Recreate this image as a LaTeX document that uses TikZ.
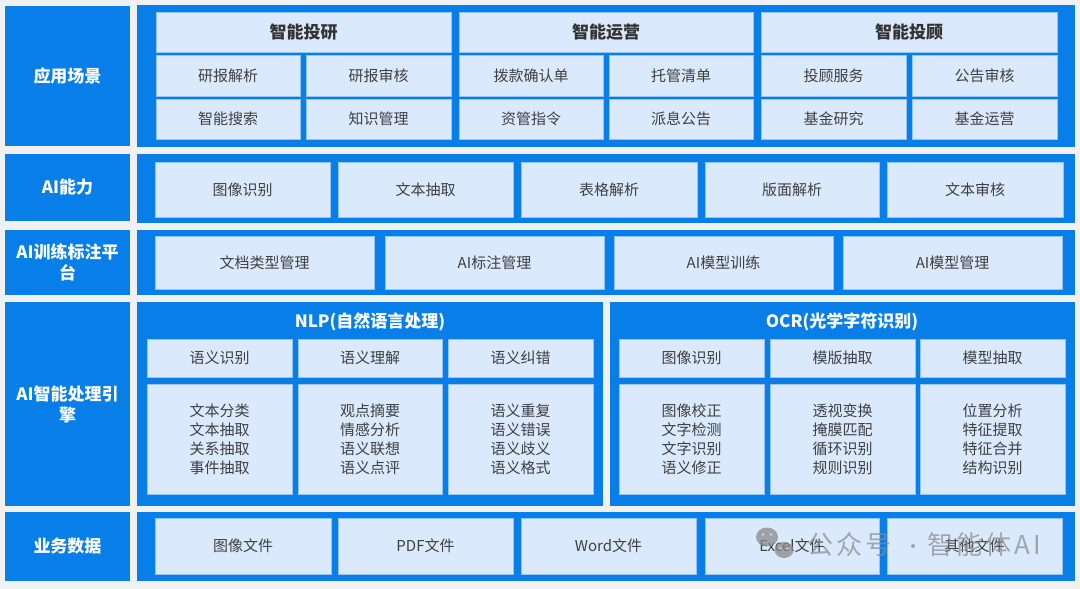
\documentclass[tikz,border=0pt]{standalone}
\usepackage{fontspec}
\setmainfont{Noto Sans CJK SC}
\definecolor{bg}{HTML}{F1F1F1}
\definecolor{mainblue}{HTML}{077EE8}
\definecolor{cellfill}{HTML}{DAE9FC}
\definecolor{cellline}{HTML}{95C4F3}
\definecolor{txt}{HTML}{404040}
\definecolor{hdtxt}{HTML}{333333}
\definecolor{wm}{HTML}{8A8A8A}
\tikzset{
  panel/.style={fill=mainblue, draw=none, inner sep=0pt, outer sep=0pt},
  rowlabel/.style={panel, text=white, font=\fontsize{17}{21}\selectfont\bfseries, align=center},
  cell/.style={fill=cellfill, draw=cellline, line width=0.8pt, inner sep=0pt, outer sep=0pt, text=txt, font=\fontsize{15}{19}\selectfont, align=center},
  headcell/.style={cell, text=hdtxt, font=\fontsize{17}{21}\selectfont\bfseries},
  grouptitle/.style={text=white, font=\fontsize{17}{21}\selectfont\bfseries, inner sep=0pt},
  watermark/.style={text=wm, opacity=0.7, font=\fontsize{26}{30}\selectfont\addfontfeature{LetterSpace=12}, inner sep=0pt, anchor=west},
  wmdot/.style={fill=wm, opacity=0.7, circle, inner sep=0pt, minimum size=4pt}
}
\newcommand\bx[7]{\node[#1, minimum width={#5-#3}, minimum height={#6-#4}] (#2) at ({(#3+#5)/2},{-(#4+#6)/2}) {#7};}
\begin{document}
\begin{tikzpicture}[x=1pt,y=1pt]
\fill[bg] (0,0) rectangle (1080,-589);
\useasboundingbox (0,0) rectangle (1080,-589);
% row labels
\bx{rowlabel}{L1}{5}{6}{130}{146}{应用场景}
\bx{rowlabel}{L2}{5}{154}{130}{221}{AI能力}
\bx{rowlabel}{L3}{5}{230}{130}{295}{AI训练标注平\\台}
\bx{rowlabel}{L4}{5}{302}{130}{506}{AI智能处理引\\擎}
\bx{rowlabel}{L5}{5}{512}{130}{581}{业务数据}
% panels
\bx{panel}{P1}{137}{5}{1075}{147}{}
\bx{panel}{P2}{137}{154}{1075}{223}{}
\bx{panel}{P3}{137}{230}{1075}{295}{}
\bx{panel}{P4a}{137}{302}{603}{506}{}
\bx{panel}{P4b}{610}{302}{1075}{506}{}
\bx{panel}{P5}{137}{512}{1075}{581}{}
% row 1: application scenes
\bx{headcell}{h1}{156}{12}{451}{52}{智能投研}
\bx{headcell}{h2}{459}{12}{753}{52}{智能运营}
\bx{headcell}{h3}{761}{12}{1057}{52}{智能投顾}
\bx{cell}{a11}{156}{55}{300}{96}{研报解析}
\bx{cell}{a12}{306}{55}{451}{96}{研报审核}
\bx{cell}{a13}{459}{55}{603}{96}{拨款确认单}
\bx{cell}{a14}{609}{55}{753}{96}{托管清单}
\bx{cell}{a15}{761}{55}{906}{96}{投顾服务}
\bx{cell}{a16}{912}{55}{1057}{96}{公告审核}
\bx{cell}{a21}{156}{99}{300}{139}{智能搜索}
\bx{cell}{a22}{306}{99}{451}{139}{知识管理}
\bx{cell}{a23}{459}{99}{603}{139}{资管指令}
\bx{cell}{a24}{609}{99}{753}{139}{派息公告}
\bx{cell}{a25}{761}{99}{906}{139}{基金研究}
\bx{cell}{a26}{912}{99}{1057}{139}{基金运营}
% row 2: AI abilities
\bx{cell}{b1}{155}{162}{330}{217}{图像识别}
\bx{cell}{b2}{338}{162}{513}{217}{文本抽取}
\bx{cell}{b3}{521}{162}{697}{217}{表格解析}
\bx{cell}{b4}{705}{162}{879}{217}{版面解析}
\bx{cell}{b5}{887}{162}{1063}{217}{文本审核}
% row 3: training platform
\bx{cell}{c1}{155}{236}{374}{289}{文档类型管理}
\bx{cell}{c2}{385}{236}{604}{289}{AI标注管理}
\bx{cell}{c3}{614}{236}{833}{289}{AI模型训练}
\bx{cell}{c4}{843}{236}{1062}{289}{AI模型管理}
% row 4: engines
\node[grouptitle] (nlp) at (370,-322) {NLP(自然语言处理)};
\node[grouptitle] (ocr) at (842,-322) {OCR(光学字符识别)};
\bx{cell}{d1}{147}{339}{292}{377}{语义识别}
\bx{cell}{d2}{298}{339}{442}{377}{语义理解}
\bx{cell}{d3}{448}{339}{593}{377}{语义纠错}
\bx{cell}{d4}{619}{339}{764}{377}{图像识别}
\bx{cell}{d5}{770}{339}{915}{377}{模版抽取}
\bx{cell}{d6}{920}{339}{1065}{377}{模型抽取}
\bx{cell}{e1}{147}{384}{292}{494}{文本分类\\文本抽取\\关系抽取\\事件抽取}
\bx{cell}{e2}{298}{384}{442}{494}{观点摘要\\情感分析\\语义联想\\语义点评}
\bx{cell}{e3}{448}{384}{593}{494}{语义重复\\语义错误\\语义歧义\\语义格式}
\bx{cell}{e4}{619}{384}{764}{494}{图像校正\\文字检测\\文字识别\\语义修正}
\bx{cell}{e5}{770}{384}{915}{494}{透视变换\\掩膜匹配\\循环识别\\规则识别}
\bx{cell}{e6}{920}{384}{1065}{494}{位置分析\\特征提取\\特征合并\\结构识别}
% row 5: business data
\bx{cell}{f1}{155}{518}{331}{574}{图像文件}
\bx{cell}{f2}{338}{518}{513}{574}{PDF文件}
\bx{cell}{f3}{521}{518}{696}{574}{Word文件}
\bx{cell}{f4}{705}{518}{879}{574}{Excel文件}
\bx{cell}{f5}{887}{518}{1062}{574}{其他文件}
% watermark
\begin{scope}[opacity=0.75]
\fill[wm] (767,-537) ellipse (11 and 9.5);
\fill[wm] (784,-550) ellipse (9.5 and 8);
\fill[cellfill] (763,-534.5) circle (1.4) (771,-534.5) circle (1.4);
\fill[cellfill] (780.5,-548) circle (1.2) (787.5,-548) circle (1.2);
\end{scope}
\node[watermark] (wm1) at (807,-545) {公众号};
\node[wmdot] (wm2) at (913,-546) {};
\node[watermark] (wm3) at (927,-545) {智能体AI};
\end{tikzpicture}
\end{document}
